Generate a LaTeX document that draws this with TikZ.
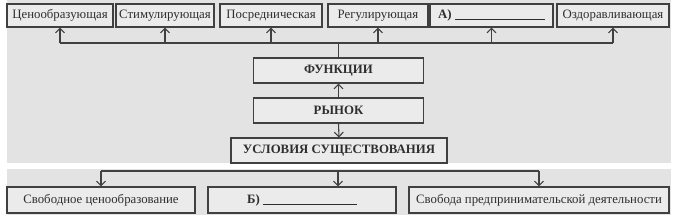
\documentclass[tikz,border=0pt]{standalone}
\usepackage{fontspec}
\setmainfont{Liberation Serif}
\usetikzlibrary{arrows.meta}
\definecolor{bggray}{HTML}{E3E3E3}
\definecolor{boxfill}{HTML}{EBEBEB}
\definecolor{linecol}{HTML}{404040}
\definecolor{textcol}{HTML}{2E2E2E}
\tikzset{
  box/.style={draw=linecol, fill=boxfill, line width=1.1pt, inner sep=0pt, text=textcol, font=\fontsize{12.8}{14}\selectfont},
  topbox/.style={box, minimum height=23pt},
  headbox/.style={box, minimum height=25pt, font=\fontsize{12.8}{14}\selectfont\bfseries},
  botbox/.style={box, minimum height=26pt},
  conn/.style={draw=linecol, line width=1.1pt},
  arr/.style={conn, -{Straight Barb[length=4.5pt, width=9pt, line width=1.1pt]}},
}
\begin{document}
\begin{tikzpicture}[x=1pt, y=-1pt]
\useasboundingbox (0,0) rectangle (676,220);
% background
\fill[bggray] (7,0) rectangle (671,163);
\fill[bggray] (7,169) rectangle (671,215);
% top row
\node[topbox, minimum width=106pt] (f1) at (60,15.5) {Ценообразующая};
\node[topbox, minimum width=98pt]  (f2) at (165,15.5) {Стимулирующая};
\node[topbox, minimum width=102pt] (f3) at (271,15.5) {Посредническая};
\node[topbox, minimum width=100pt] (f4) at (378,15.5) {Регулирующая};
\node[topbox, minimum width=123pt] (f5) at (491.5,15.5) {\textbf{А)}\ \rule[-1.5pt]{90pt}{0.6pt}};
\node[topbox, minimum width=112pt] (f6) at (613,15.5) {Оздоравливающая};
% center column
\node[headbox, minimum width=170pt] (fun) at (338.5,70.5) {ФУНКЦИИ};
\node[headbox, minimum width=170pt] (ryn) at (338.5,110.5) {РЫНОК};
\node[headbox, minimum width=216pt] (usl) at (339,150.5) {УСЛОВИЯ СУЩЕСТВОВАНИЯ};
% bottom row
\node[botbox, minimum width=188pt] (b1) at (101,200) {Свободное ценообразование};
\node[botbox, minimum width=188pt] (b2) at (302,200) {\textbf{Б)}\ \rule[-1.5pt]{94pt}{0.6pt}};
\node[botbox, minimum width=260pt] (b3) at (539,200) {Свобода предпринимательской деятельности};
% top connectors
\coordinate (tj) at (fun.north |- 0,43);
\draw[conn] (fun.north) -- (tj);
\draw[conn] (f1.south |- tj) -- (f6.south |- tj);
\foreach \n in {f1,f2,f3,f4,f5,f6}{
  \draw[arr] (\n.south |- tj) -- (\n.south);
}
% center arrows
\draw[arr] (ryn.north) -- (fun.south);
\draw[arr] (ryn.south) -- (usl.north);
% bottom connectors
\coordinate (bj) at (338,171);
\draw[conn] (b1.north |- bj) -- (b3.north |- bj);
\draw[arr] (b1.north |- bj) -- (b1.north);
\draw[arr] (bj) -- (bj |- b2.north);
\draw[arr] (b3.north |- bj) -- (b3.north);
\end{tikzpicture}
\end{document}
